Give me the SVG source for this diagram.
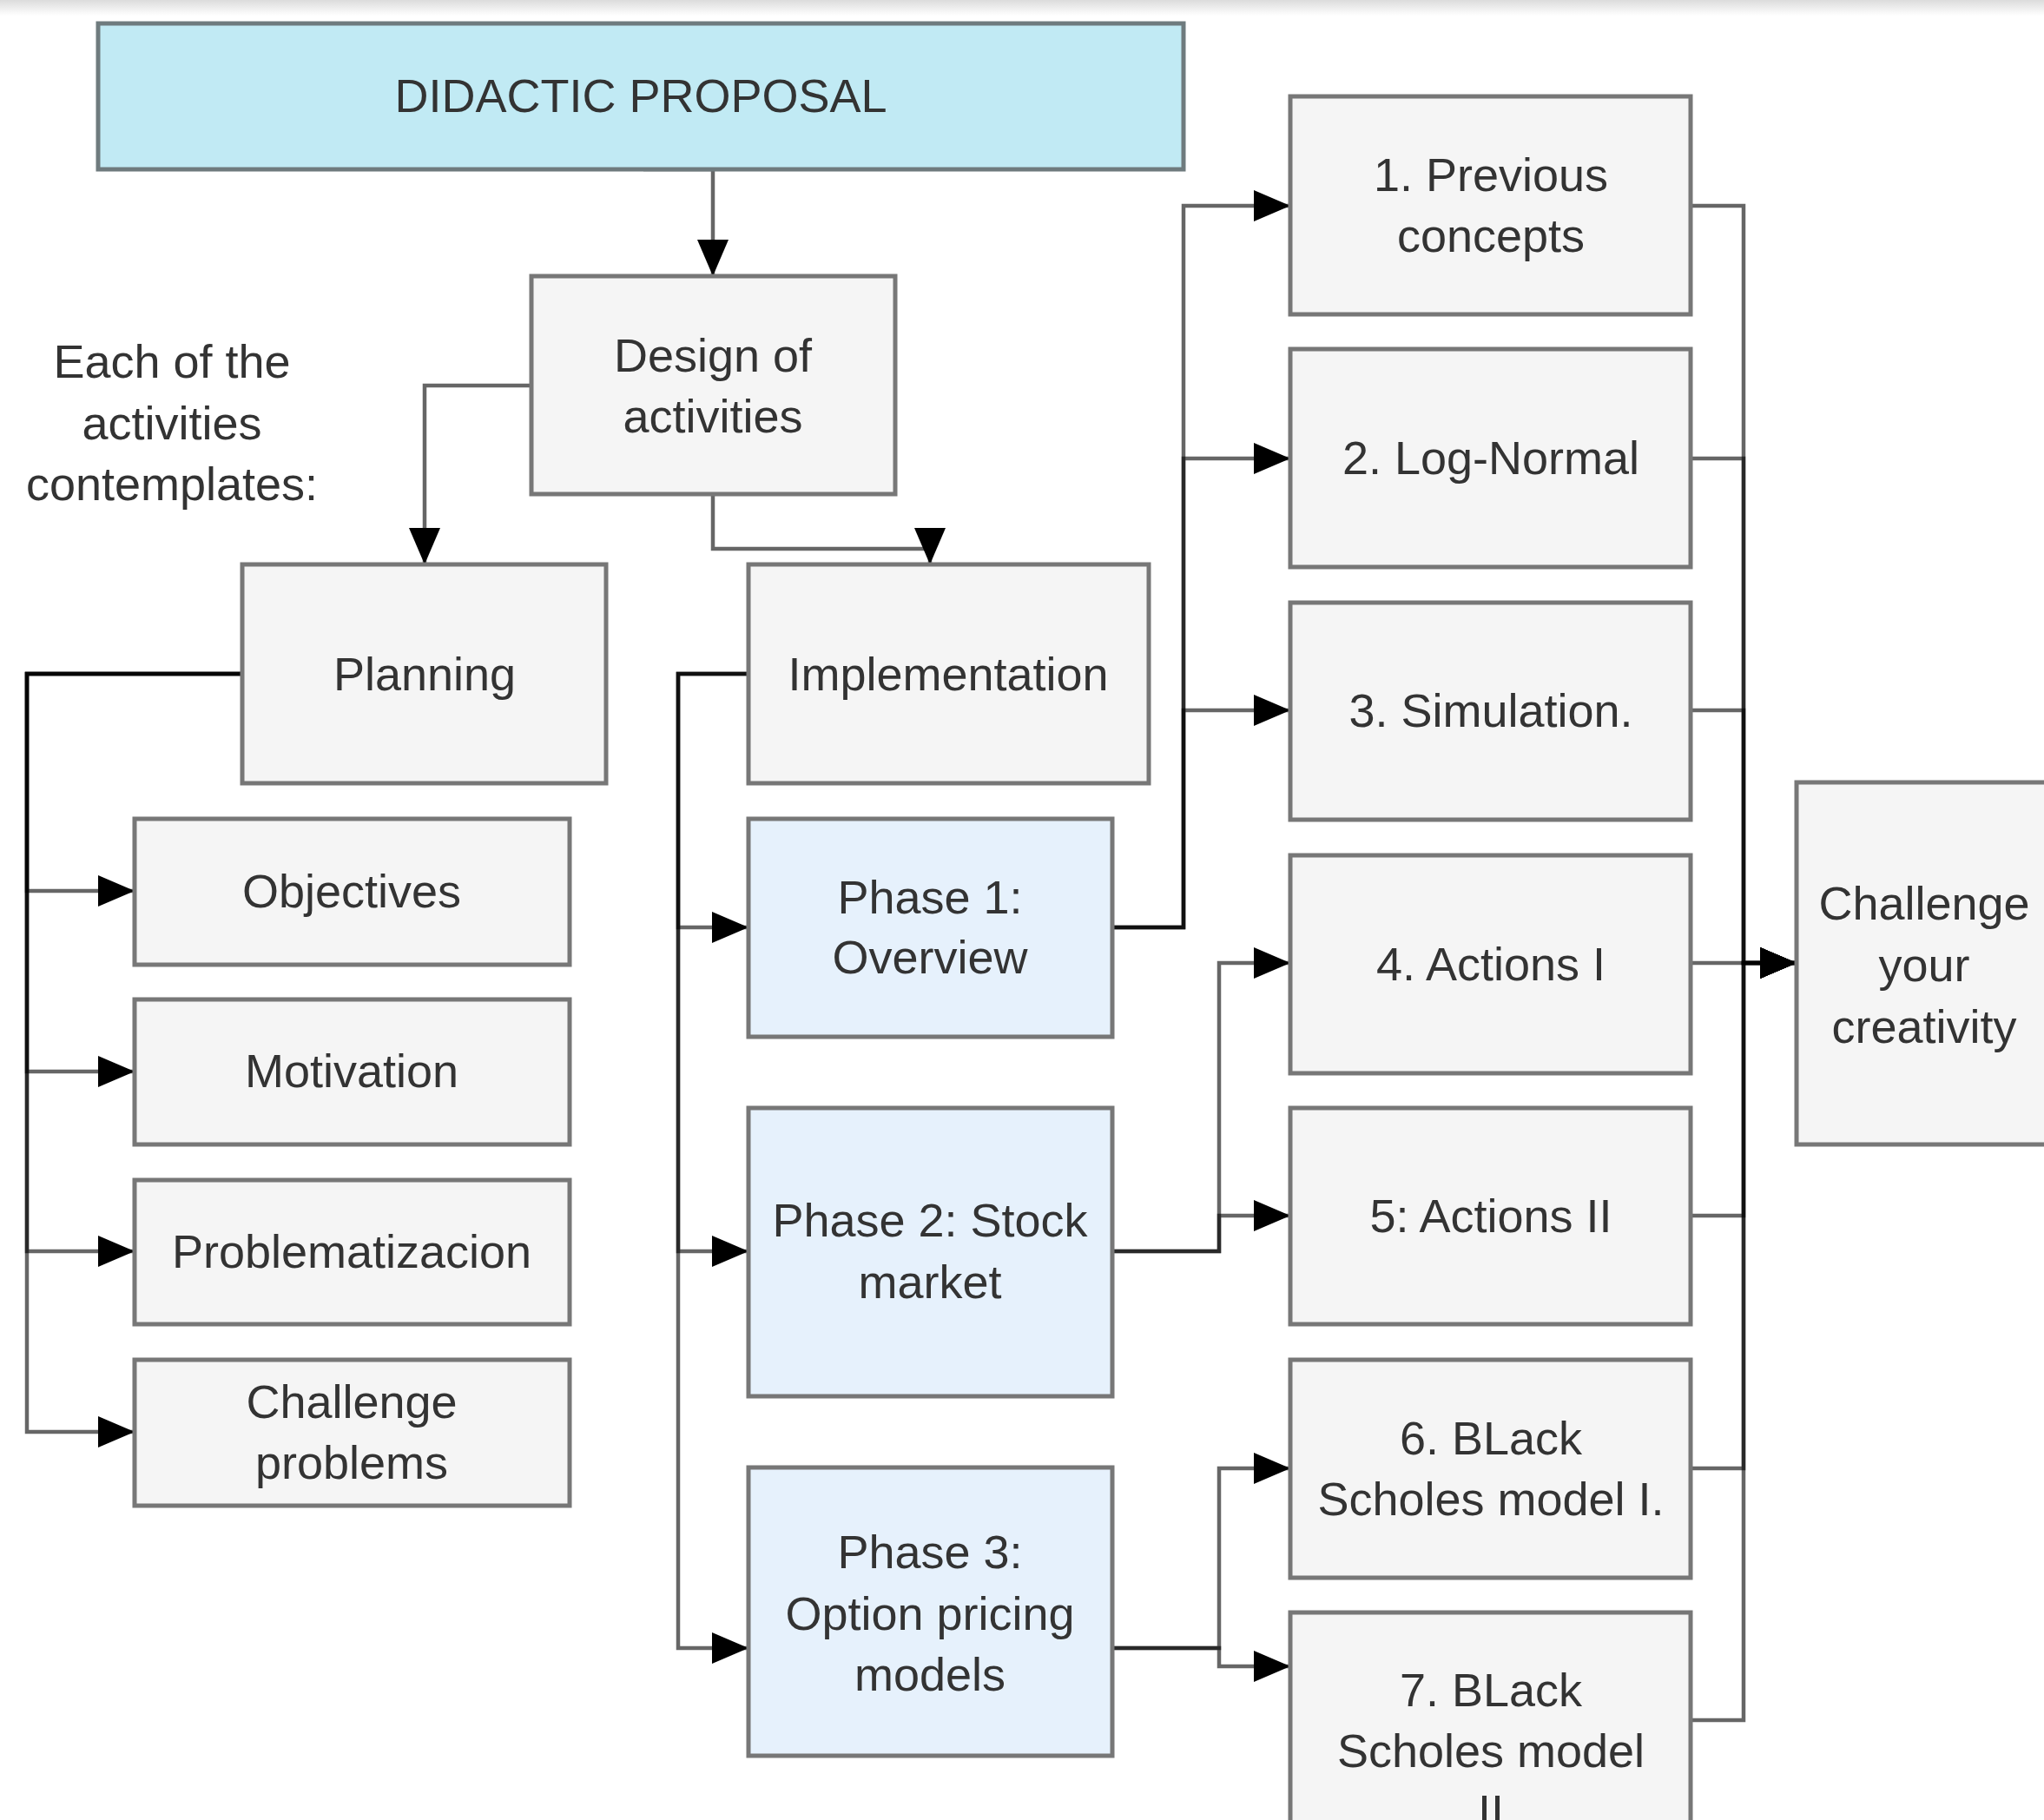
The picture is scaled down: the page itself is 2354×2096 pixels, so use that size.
<svg xmlns="http://www.w3.org/2000/svg" width="2354" height="2096" viewBox="0 0 2354 2096">
<defs>
<linearGradient id="topbar" x1="0" y1="0" x2="0" y2="1">
<stop offset="0" stop-color="#dcdcdc"/>
<stop offset="1" stop-color="#ffffff"/>
</linearGradient>
<marker id="arr" markerUnits="userSpaceOnUse" markerWidth="42" markerHeight="36" refX="42" refY="18" orient="auto" overflow="visible">
<path d="M0,0 L42,18 L0,36 Z" fill="#000"/>
</marker>
<style>
.box{fill:#f5f5f5;stroke:#777;stroke-width:5}
.blue{fill:#e6f1fc;stroke:#777;stroke-width:5}
.title{fill:#c1eaf4;stroke:#6f7b7e;stroke-width:5}
text{font-family:"Liberation Sans",Arial,sans-serif;font-size:54px;fill:#333;text-anchor:middle}
.edge{fill:none;stroke:#000;stroke-opacity:0.6;stroke-width:4.5;marker-end:url(#arr)}
</style>
</defs>
<rect x="0" y="0" width="2354" height="2096" fill="#fff"/>
<rect x="0" y="0" width="2354" height="18" fill="url(#topbar)"/>

<g id="connectors">
<path class="edge" d="M741,195 H821 V318"/>
<path class="edge" d="M612,444 H489 V650"/>
<path class="edge" d="M821,569 V632 H1071 V650"/>
<path class="edge" d="M279,776 H31 V1026 H155"/>
<path class="edge" d="M279,776 H31 V1234 H155"/>
<path class="edge" d="M279,776 H31 V1441 H155"/>
<path class="edge" d="M279,776 H31 V1649 H155"/>
<path class="edge" d="M862,776 H781 V1068 H862"/>
<path class="edge" d="M862,776 H781 V1441 H862"/>
<path class="edge" d="M862,776 H781 V1898 H862"/>
<path class="edge" d="M1281,1068 H1363 V237 H1486"/>
<path class="edge" d="M1281,1068 H1363 V528 H1486"/>
<path class="edge" d="M1281,1068 H1363 V818 H1486"/>
<path class="edge" d="M1281,1441 H1404 V1109 H1486"/>
<path class="edge" d="M1281,1441 H1404 V1400 H1486"/>
<path class="edge" d="M1281,1898 H1404 V1691 H1486"/>
<path class="edge" d="M1281,1898 H1404 V1919 H1486"/>
<path class="edge" d="M1948,237 H2008 V1109 H2069"/>
<path class="edge" d="M1948,528 H2008 V1109 H2069"/>
<path class="edge" d="M1948,818 H2008 V1109 H2069"/>
<path class="edge" d="M1948,1109 H2008 V1109 H2069"/>
<path class="edge" d="M1948,1400 H2008 V1109 H2069"/>
<path class="edge" d="M1948,1691 H2008 V1109 H2069"/>
<path class="edge" d="M1948,1981 H2008 V1109 H2069"/>
</g>

<g id="didactic"><rect class="title" x="113" y="27" width="1250" height="168"/><text x="738" y="129">DIDACTIC PROPOSAL</text></g>
<g id="design"><rect class="box" x="612" y="318" width="419" height="251"/><text x="821" y="428">Design of</text><text x="821" y="498">activities</text></g>
<g id="note"><text x="198" y="435">Each of the</text><text x="198" y="506">activities</text><text x="198" y="576">contemplates:</text></g>
<g id="planning"><rect class="box" x="279" y="650" width="419" height="252"/><text x="489" y="795">Planning</text></g>
<g id="implementation"><rect class="box" x="862" y="650" width="461" height="252"/><text x="1092" y="795">Implementation</text></g>
<g id="objectives"><rect class="box" x="155" y="943" width="501" height="168"/><text x="405" y="1045">Objectives</text></g>
<g id="motivation"><rect class="box" x="155" y="1151" width="501" height="167"/><text x="405" y="1252">Motivation</text></g>
<g id="problematizacion"><rect class="box" x="155" y="1359" width="501" height="166"/><text x="405" y="1460">Problematizacion</text></g>
<g id="challenge-problems"><rect class="box" x="155" y="1566" width="501" height="168"/><text x="405" y="1633">Challenge</text><text x="405" y="1703">problems</text></g>
<g id="phase1"><rect class="blue" x="862" y="943" width="419" height="251"/><text x="1071" y="1052">Phase 1:</text><text x="1071" y="1121">Overview</text></g>
<g id="phase2"><rect class="blue" x="862" y="1276" width="419" height="332"/><text x="1071" y="1424">Phase 2: Stock</text><text x="1071" y="1495">market</text></g>
<g id="phase3"><rect class="blue" x="862" y="1690" width="419" height="332"/><text x="1071" y="1806">Phase 3:</text><text x="1071" y="1877">Option pricing</text><text x="1071" y="1947">models</text></g>
<g id="step1"><rect class="box" x="1486" y="111" width="461" height="251"/><text x="1717" y="220">1. Previous</text><text x="1717" y="290">concepts</text></g>
<g id="step2"><rect class="box" x="1486" y="402" width="461" height="251"/><text x="1717" y="546">2. Log-Normal</text></g>
<g id="step3"><rect class="box" x="1486" y="694" width="461" height="250"/><text x="1717" y="837">3. Simulation.</text></g>
<g id="step4"><rect class="box" x="1486" y="985" width="461" height="251"/><text x="1717" y="1129">4. Actions I</text></g>
<g id="step5"><rect class="box" x="1486" y="1276" width="461" height="249"/><text x="1717" y="1419">5: Actions II</text></g>
<g id="step6"><rect class="box" x="1486" y="1566" width="461" height="251"/><text x="1717" y="1675">6. BLack</text><text x="1717" y="1745">Scholes model I.</text></g>
<g id="step7"><rect class="box" x="1486" y="1857" width="461" height="320"/><text x="1717" y="1965">7. BLack</text><text x="1717" y="2035">Scholes model</text><text x="1717" y="2105">II</text></g>
<g id="creativity"><rect class="box" x="2069" y="901" width="294" height="417"/><text x="2216" y="1059">Challenge</text><text x="2216" y="1130">your</text><text x="2216" y="1201">creativity</text></g>
</svg>
